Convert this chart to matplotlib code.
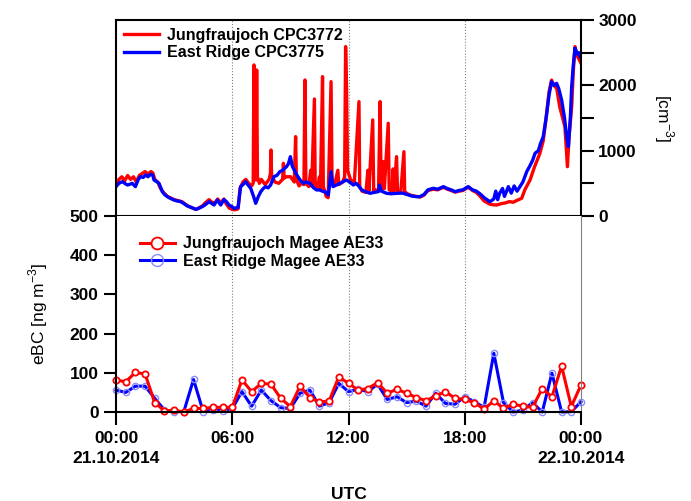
import matplotlib.pyplot as plt
from matplotlib.ticker import MultipleLocator

plt.rcParams['font.family'] = ['Liberation Sans', 'DejaVu Sans']

# CPC number concentration, hours since 21.10.2014 00:00 UTC
cpc_er_hours = [0.0, 0.15, 0.33, 0.5, 0.6, 0.84, 1.0, 1.15, 1.27, 1.4, 1.53, 1.65, 1.79, 1.9, 1.96,
                2.1, 2.22, 2.39, 2.5, 2.65, 2.8, 2.99, 3.15, 3.34, 3.5, 3.68, 3.9, 4.11, 4.3, 4.45,
                4.6, 4.8, 4.95, 5.06, 5.23, 5.4, 5.57, 5.7, 5.83, 6.0, 6.09, 6.3, 6.43, 6.55, 6.69,
                6.8, 6.95, 7.1, 7.21, 7.35, 7.47, 7.6, 7.72, 7.85, 7.98, 8.15, 8.3, 8.46, 8.6, 8.8,
                8.9, 9.0, 9.1, 9.24, 9.35, 9.5, 9.67, 9.8, 10.01, 10.2, 10.36, 10.5, 10.65, 10.79,
                10.96, 11.1, 11.2, 11.35, 11.56, 11.75, 11.9, 12.05, 12.25, 12.4, 12.55, 12.68, 12.9,
                13.11, 13.3, 13.54, 13.6, 13.7, 13.97, 14.2, 14.48, 14.8, 15.0, 15.26, 15.5, 15.69,
                15.9, 16.1, 16.38, 16.6, 16.9, 17.1, 17.3, 17.5, 17.7, 17.9, 18.18, 18.4, 18.6, 18.8,
                19.0, 19.3, 19.5, 19.6, 19.7, 19.8, 19.95, 20.05, 20.25, 20.4, 20.55, 20.7, 20.85,
                21.0, 21.2, 21.35, 21.5, 21.63, 21.8, 21.9, 22.05, 22.2, 22.35, 22.48, 22.6, 22.74,
                22.85, 23.0, 23.15, 23.26, 23.35, 23.45, 23.52, 23.6, 23.69, 23.8, 23.88, 23.95, 24.0]
cpc_er = [449, 500, 525, 490, 474, 500, 449, 560, 602, 590, 628, 600, 640, 620, 551,
          525, 500, 372, 330, 296, 270, 245, 230, 219, 190, 153, 130, 102, 120, 143,
          170, 219, 190, 168, 245, 168, 250, 220, 168, 140, 117, 130, 449, 480, 525,
          480, 424, 300, 194, 300, 372, 420, 449, 430, 474, 602, 620, 679, 700, 755,
          800, 908, 760, 679, 620, 551, 500, 520, 500, 430, 398, 400, 380, 372,
          321, 679, 449, 470, 500, 530, 551, 520, 474, 500, 450, 398, 370,
          347, 360, 372, 474, 380, 347, 340, 347, 350, 330, 306, 296, 296,
          330, 400, 424, 410, 449, 420, 400, 372, 390, 400, 449, 400, 380, 337,
          280, 219, 260, 380, 250, 347, 420, 300, 449, 350, 460, 380, 449,
          520, 679, 760, 850, 960, 1000, 1100, 1214, 1500, 1850, 2056, 2000, 2030,
          1950, 1776, 1500, 1214, 1061, 1500, 1980, 2300, 2567, 2480, 2500, 2440, 2420]

cpc_jfj_hours = [0.0, 0.15, 0.3, 0.45, 0.6, 0.75, 0.9, 1.05, 1.2, 1.35, 1.5, 1.65, 1.8, 1.9, 2.0,
                 2.15, 2.3, 2.45, 2.65, 2.8, 3.0, 3.2, 3.4, 3.6, 3.8, 4.0, 4.15, 4.3, 4.45, 4.6,
                 4.8, 4.95, 5.1, 5.25, 5.4, 5.57, 5.7, 5.85, 6.0, 6.15, 6.3, 6.4, 6.55, 6.7, 6.85,
                 7.0, 7.08, 7.12, 7.16, 7.22, 7.26, 7.3, 7.4, 7.5, 7.7, 7.9, 7.97, 8.0, 8.03, 8.2,
                 8.4, 8.6, 8.64, 8.68, 8.8, 9.0, 9.2, 9.27, 9.31, 9.45, 9.55, 9.7, 9.75, 9.8, 9.95,
                 10.05, 10.1, 10.24, 10.28, 10.4, 10.5, 10.55, 10.66, 10.7, 10.85, 10.95, 11.1, 11.15,
                 11.3, 11.45, 11.5, 11.7, 11.8, 11.85, 11.9, 11.95, 12.1, 12.3, 12.54, 12.58, 12.7,
                 12.9, 13.0, 13.05, 13.25, 13.3, 13.4, 13.55, 13.63, 13.67, 13.75, 13.8, 13.85, 14.05,
                 14.1, 14.25, 14.3, 14.35, 14.48, 14.53, 14.7, 14.86, 14.9, 15.1, 15.3, 15.5, 15.7,
                 15.9, 16.1, 16.38, 16.6, 16.9, 17.1, 17.3, 17.5, 17.7, 17.9, 18.18, 18.4, 18.6, 18.8,
                 19.0, 19.3, 19.5, 19.65, 19.9, 20.1, 20.3, 20.5, 20.7, 20.94, 21.1, 21.37, 21.6,
                 21.88, 22.05, 22.2, 22.35, 22.48, 22.6, 22.75, 22.9, 23.05, 23.17, 23.25, 23.3,
                 23.38, 23.52, 23.6, 23.69, 23.8, 23.9, 24.0]
cpc_jfj = [470, 560, 600, 540, 620, 560, 600, 520, 620, 650, 680, 640, 680, 660, 560,
           520, 420, 360, 300, 280, 250, 235, 220, 175, 140, 115, 100, 130, 150, 200,
           250, 210, 200, 260, 200, 260, 180, 120, 100, 95, 110, 420, 520, 560, 500,
           460, 500, 2312, 600, 550, 2235, 600, 500, 560, 480, 560, 650, 1010, 620, 520,
           500, 560, 806, 580, 600, 602, 520, 1214, 560, 460, 500, 480, 2082, 500, 450,
           700, 460, 1791, 480, 420, 600, 400, 2133, 450, 300, 280, 2056, 500,
           500, 700, 480, 520, 600, 2592, 1950, 700, 560, 500, 1750, 450, 380,
           360, 700, 380, 1470, 380, 400, 380, 1750, 800, 420, 831, 420, 1419,
           400, 380, 720, 380, 908, 380, 370, 984, 370, 330, 310, 300, 290,
           320, 390, 410, 400, 440, 410, 390, 365, 380, 390, 440, 390, 360, 300,
           230, 180, 170, 168, 190, 200, 220, 210, 240, 271, 400, 551, 750,
           960, 1150, 1500, 1900, 2080, 2000, 1950, 1673, 1500, 1367, 1000, 755,
           1200, 1673, 2200, 2592, 2450, 2400, 2338]

# eBC, 30 min averages
ebc_hours = [i * 0.5 for i in range(49)]
ebc_jfj = [82, 77, 101, 97, 24, 3, 5, 0, 9, 9, 12, 12, 12, 82, 52, 73, 71, 35, 14, 66,
           37, 26, 28, 90, 73, 56, 60, 75, 48, 58, 48, 37, 29, 41, 52, 35, 32, 24, 7, 29,
           9, 20, 15, 12, 60, 39, 117, 14, 69]
ebc_er = [56, 50, 66, 66, 35, 5, 1, 1, 83, 1, 5, 3, 9, 52, 15, 56, 29, 11, 9, 48,
          56, 15, 24, 73, 52, 58, 52, 71, 32, 39, 24, 28, 15, 48, 22, 20, 39, 26, 12, 150,
          24, 0, 5, 24, 0, 99, 0, 1, 26]

xticks = [0, 6, 12, 18, 24]
xticklabels = ['00:00\n21.10.2014', '06:00', '12:00', '18:00', '00:00\n22.10.2014']

fig = plt.figure(figsize=(6.91, 5.01), dpi=100)
ax1 = fig.add_axes([0.1679, 0.5689, 0.6729, 0.3912])
ax2 = fig.add_axes([0.1679, 0.1776, 0.6729, 0.3912])

tickfont = dict(fontsize=12.5, fontweight='bold')

# top panel: CPC
ax1.plot(cpc_jfj_hours, cpc_jfj, color='red', lw=2.4, label='Jungfraujoch CPC3772')
ax1.plot(cpc_er_hours, cpc_er, color='blue', lw=2.4, label='East Ridge CPC3775')
ax1.set_xlim(0, 24)
ax1.set_ylim(0, 3000)
ax1.yaxis.tick_right()
ax1.yaxis.set_label_position('right')
ax1.yaxis.set_major_locator(MultipleLocator(1000))
ax1.yaxis.set_minor_locator(MultipleLocator(500))
ax1.tick_params(axis='y', which='both', direction='out', length=9, width=1.5)
ax1.tick_params(axis='x', bottom=False, labelbottom=False)
for lab in ax1.get_yticklabels():
    lab.set_fontsize(12.5)
    lab.set_fontweight('bold')
ax1.set_ylabel('[cm$^{\\mathregular{-3}}$]', fontsize=12.5, rotation=270, labelpad=28)
for sp in ax1.spines.values():
    sp.set_linewidth(1.5)
ax1.legend(loc='upper left', frameon=False, prop=dict(size=11.5, weight='bold'),
           handlelength=2.2, borderaxespad=0.1, labelspacing=0.15, handletextpad=0.5)

# bottom panel: eBC
ax2.plot(ebc_hours, ebc_er, color='blue', lw=2.2, marker='o', ms=4.5, mfc='none',
         mec='#8c8cff', mew=1.0, label='East Ridge Magee AE33', clip_on=False)
ax2.plot(ebc_hours, ebc_jfj, color='red', lw=2.2, marker='o', ms=4.5, mfc='white',
         mec='red', mew=1.3, label='Jungfraujoch Magee AE33', clip_on=False)
ax2.set_xlim(0, 24)
ax2.set_ylim(0, 500)
ax2.yaxis.set_major_locator(MultipleLocator(100))
ax2.set_xticks(xticks)
ax2.set_xticklabels(xticklabels, linespacing=1.35, **tickfont)
for lab in ax2.get_yticklabels():
    lab.set_fontsize(12.5)
    lab.set_fontweight('bold')
ax2.tick_params(axis='both', direction='out', length=9, width=1.5)
ax2.tick_params(axis='x', pad=5)
ax2.spines['top'].set_visible(False)
ax2.spines['right'].set_color('gray')
ax2.spines['right'].set_linewidth(0.8)
ax2.spines['left'].set_linewidth(1.5)
ax2.spines['bottom'].set_linewidth(1.5)
ax2.set_ylabel('eBC [ng m$^{\\mathregular{-3}}$]', fontsize=12.5, labelpad=14)
ax2.set_xlabel('UTC', fontsize=12.5, fontweight='bold', labelpad=15)
h, l = ax2.get_legend_handles_labels()
ax2.legend(h[::-1], l[::-1], loc='upper left', frameon=False,
           prop=dict(size=11.5, weight='bold'), handlelength=2.2, markerscale=1.9,
           bbox_to_anchor=(0.02, 0.97), labelspacing=0.15, handletextpad=0.5)

# dotted vertical guides at 06, 12, 18 UTC
for ax in (ax1, ax2):
    for t in xticks[1:-1]:
        ax.axvline(t, color='gray', ls=':', lw=0.8, zorder=0)

fig.savefig('out.png', dpi=100)
